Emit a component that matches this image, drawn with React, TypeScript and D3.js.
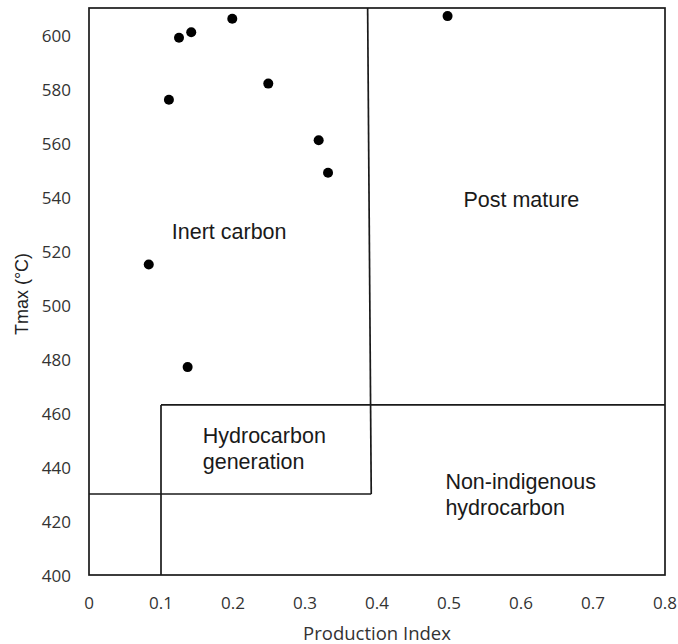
import React from "react";
import * as d3 from "d3";

const piValues = [0.125, 0.142, 0.199, 0.111, 0.249, 0.319, 0.332, 0.083, 0.137, 0.498];
const tmaxValues = [599, 601, 606, 576, 582, 561, 549, 515, 477, 607];

const xTicks = [0, 0.1, 0.2, 0.3, 0.4, 0.5, 0.6, 0.7, 0.8];
const yTicks = [400, 420, 440, 460, 480, 500, 520, 540, 560, 580, 600];

// Boundary segments in data units: [x1, y1, x2, y2]
const boundaries: [number, number, number, number][] = [
  [0.387, 610, 0.392, 430],
  [0, 430, 0.392, 430],
  [0.1, 463, 0.8, 463],
  [0.1, 400, 0.1, 463],
];

const regionLabels = [
  { lines: ["Inert carbon"], x: 0.115, y: 527 },
  { lines: ["Post mature"], x: 0.52, y: 539 },
  { lines: ["Hydrocarbon", "generation"], x: 0.158, y: 451.5 },
  { lines: ["Non-indigenous", "hydrocarbon"], x: 0.495, y: 434.6 },
];

export default function App() {
  const W = 678, H = 644;
  const x = d3.scaleLinear().domain([0, 0.8]).range([89, 665]);
  const y = d3.scaleLinear().domain([400, 610]).range([575, 8]);
  const fmt = (v: number) => (v === 0 ? "0" : d3.format(".1f")(v));
  const stroke = "#1a1a1a";
  return (
    <svg width={W} height={H} style={{ position: "absolute", left: 0, top: 0, background: "#fff" }}>
      <rect x={x(0)} y={y(610)} width={x(0.8) - x(0)} height={y(400) - y(610)} fill="none" stroke={stroke} strokeWidth={1.7} />
      {boundaries.map((b, i) => (
        <line key={i} x1={x(b[0])} y1={y(b[1])} x2={x(b[2])} y2={y(b[3])} stroke={stroke} strokeWidth={1.7} />
      ))}
      {xTicks.map((t) => (
        <text key={t} x={x(t)} y={602} textAnchor="middle" dominantBaseline="central" fontFamily="'Open Sans', sans-serif" fontSize={17} fill="#333">
          {fmt(t)}
        </text>
      ))}
      {yTicks.map((t) => (
        <text key={t} x={71} y={y(t)} textAnchor="end" dominantBaseline="central" fontFamily="'Open Sans', sans-serif" fontSize={17} fill="#333">
          {t}
        </text>
      ))}
      <text x={(x(0) + x(0.8)) / 2} y={632} textAnchor="middle" dominantBaseline="central" fontFamily="'Open Sans', sans-serif" fontSize={18.5} fill="#333">
        Production Index
      </text>
      <text transform={`translate(22, 294) rotate(-90)`} textAnchor="middle" dominantBaseline="central" fontFamily="'Liberation Sans', Arial, sans-serif" fontSize={18} fill="#222">
        Tmax (°C)
      </text>
      {regionLabels.map((r, i) => (
        <text key={i} x={x(r.x)} y={y(r.y)} fontFamily="'Liberation Sans', Arial, sans-serif" fontSize={21.5} fill="#1a1a1a" dominantBaseline="central">
          {r.lines.map((l, j) => (
            <tspan key={j} x={x(r.x)} dy={j === 0 ? 0 : 26.5}>{l}</tspan>
          ))}
        </text>
      ))}
      {piValues.map((v, i) => (
        <circle key={i} cx={x(v)} cy={y(tmaxValues[i])} r={5} fill="#000" />
      ))}
    </svg>
  );
}
